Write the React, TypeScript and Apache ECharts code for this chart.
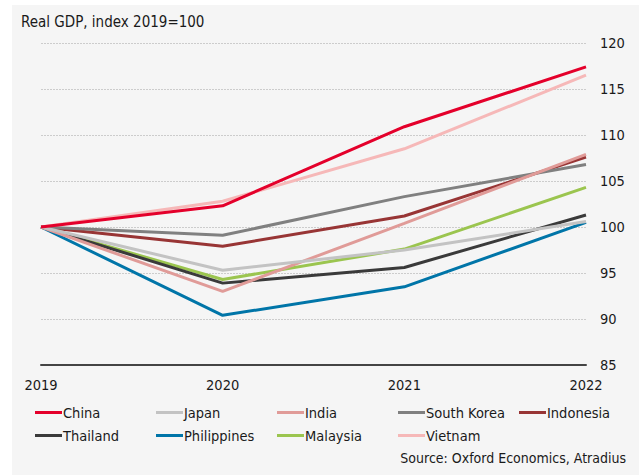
import React, { useEffect, useRef } from "react";
import * as echarts from "echarts";

const years = ["2019", "2020", "2021", "2022"];
const countries = ["China", "Japan", "India", "South Korea", "Indonesia", "Thailand", "Philippines", "Malaysia", "Vietnam"];
const china = [100, 102.3, 110.9, 117.4];
const japan = [100, 95.3, 97.5, 100.6];
const india = [100, 93.0, 100.4, 107.9];
const southKorea = [100, 99.1, 103.3, 106.8];
const indonesia = [100, 97.9, 101.2, 107.6];
const thailand = [100, 93.9, 95.6, 101.3];
const philippines = [100, 90.4, 93.5, 100.5];
const malaysia = [100, 94.3, 97.6, 104.3];
const vietnam = [100, 102.8, 108.5, 116.5];
const seriesValues = [china, japan, india, southKorea, indonesia, thailand, philippines, malaysia, vietnam];
const colors = ["#e4002b", "#c3c3c3", "#e09b98", "#808080", "#983535", "#3a3a3a", "#0075a8", "#9bc54f", "#f6b8b8"];
const yTicks = { min: 85, max: 120, interval: 5 };
const titleText = "Real GDP, index 2019=100";
const sourceText = "Source: Oxford Economics, Atradius";

const FONT = "DejaVu Sans Condensed";

export default function App() {
  const ref = useRef<HTMLDivElement>(null);
  useEffect(() => {
    if (!ref.current) return;
    const chart = echarts.init(ref.current, null, { renderer: "svg" });
    const colX = [35, 156, 277, 398, 519];
    const legends = countries.map((c, i) => {
      const row = i < 5 ? 0 : 1;
      const col = i < 5 ? i : i - 5;
      return {
        data: [c],
        left: colX[col],
        top: row === 0 ? 405 : 428,
        icon: "rect",
        itemWidth: 27,
        itemHeight: 3,
        itemGap: 0,
        padding: 0,
        textStyle: { fontFamily: FONT, fontSize: 14.5, color: "#1a1a1a", padding: [0, 0, 0, -4] },
      };
    });
    chart.setOption({
      animation: false,
      backgroundColor: "#ffffff",
      graphic: [
        { type: "rect", left: 12, top: 5, shape: { width: 627, height: 470 }, style: { fill: "#f5f5f5" }, z: -10 },
        { type: "text", left: 21, top: 14, style: { text: titleText, font: `15px '${FONT}'`, fill: "#1a1a1a" } },
        { type: "text", right: 13, top: 451, style: { text: sourceText, font: `14px '${FONT}'`, fill: "#1a1a1a" } },
      ],
      legend: legends,
      grid: { left: 41, right: 53, top: 43, bottom: 110, containLabel: false },
      xAxis: {
        type: "category",
        data: years,
        boundaryGap: false,
        axisLine: { lineStyle: { color: "#444444", width: 2 } },
        axisTick: { show: false },
        axisLabel: { fontFamily: FONT, fontSize: 14.5, color: "#1a1a1a", margin: 12 },
        splitLine: { show: false },
      },
      yAxis: {
        type: "value",
        position: "right",
        min: yTicks.min,
        max: yTicks.max,
        interval: yTicks.interval,
        axisLine: { show: false },
        axisTick: { show: false },
        axisLabel: { fontFamily: FONT, fontSize: 14.5, color: "#1a1a1a", margin: 14, align: "left" },
        splitLine: { lineStyle: { color: "#cccccc", type: [2, 1], width: 1 } },
      },
      series: countries.map((c, i) => ({
        name: c,
        type: "line",
        data: seriesValues[i],
        symbol: "none",
        lineStyle: { width: 3, color: colors[i] },
        itemStyle: { color: colors[i] },
        z: 10 - i,
      })),
    });
    return () => chart.dispose();
  }, []);
  return <div ref={ref} style={{ position: "absolute", left: 0, top: 0, width: 639, height: 475 }} />;
}
